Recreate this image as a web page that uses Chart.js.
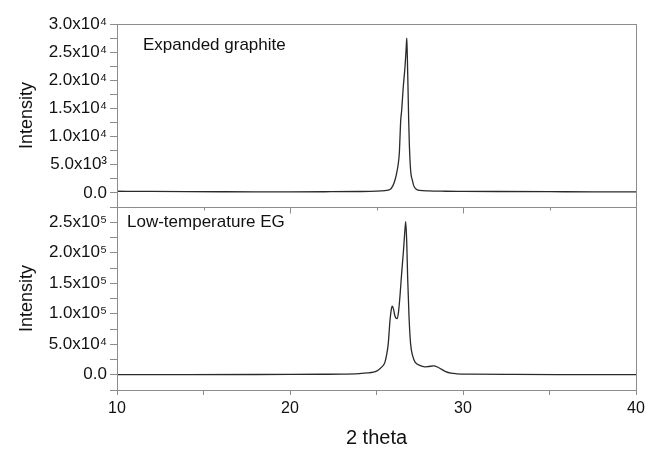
<!DOCTYPE html>
<html>
<head>
<meta charset="utf-8">
<script src="https://cdn.jsdelivr.net/npm/chart.js@4"></script>
<style>
  html, body { margin: 0; padding: 0; background: #fff; }
  #wrap { width: 657px; height: 450px; }
</style>
</head>
<body>
<div id="wrap"><canvas id="xrdChart"></canvas></div>
<script>
// expanded graphite (top panel)
const egTheta = [10, 12, 14, 16, 18, 20, 22, 24, 25, 25.5, 25.78, 25.95, 26.07, 26.15, 26.25, 26.32, 26.36, 26.4, 26.45, 26.55, 26.65, 26.72, 26.75, 26.78, 26.82, 26.86, 26.9, 26.95, 27.0, 27.07, 27.15, 27.3, 27.5, 28, 29, 30, 32, 35, 38, 40];
const egIntensity = [300, 260, 230, 210, 200, 200, 210, 250, 320, 420, 600, 1300, 2300, 3300, 5000, 7100, 10000, 12900, 14500, 18900, 22500, 26000, 27500, 24500, 18900, 12900, 8500, 5000, 3200, 2300, 1300, 650, 450, 350, 300, 280, 250, 220, 200, 200];

// low-temperature EG (bottom panel)
const lowTheta = [10, 14, 18, 20, 22, 23, 24, 24.5, 24.82, 25.0, 25.2, 25.35, 25.49, 25.6, 25.68, 25.78, 25.85, 25.91, 25.98, 26.05, 26.12, 26.2, 26.28, 26.36, 26.45, 26.55, 26.62, 26.69, 26.75, 26.8, 26.88, 26.97, 27.1, 27.23, 27.5, 27.8, 28.0, 28.3, 28.6, 29.0, 29.3, 29.64, 30.5, 33, 36, 40];
const lowIntensity = [300, 300, 400, 500, 800, 1100, 2000, 3000, 4300, 6000, 10000, 14000, 20700, 35000, 51000, 89000, 106000, 112400, 108000, 98000, 93000, 92100, 105000, 130000, 165000, 200000, 228000, 251000, 215000, 160000, 95000, 51000, 30000, 20700, 15300, 13000, 13500, 14500, 11500, 5000, 2500, 1600, 1000, 500, 300, 200];

const xTickLabels = [10, 20, 30, 40];
const panelNames = ["Expanded graphite", "Low-temperature EG"];

const supDigits = { "0": "\u2070", "1": "\u00b9", "2": "\u00b2", "3": "\u00b3", "4": "\u2074", "5": "\u2075", "6": "\u2076", "7": "\u2077", "8": "\u2078", "9": "\u2079" };

function sciLabel(v) {
    if (v < 0) return "";
    if (v === 0) return "0.0";
    const e = Math.floor(Math.log10(v) + 1e-9);
    const m = v / Math.pow(10, e);
    return m.toFixed(1) + "x10" + String(e).split("").map(d => supDigits[d]).join("");
}

const toPoints = (xs, ys) => xs.map((x, i) => ({ x: x, y: ys[i] }));

const FONT = "'Liberation Sans', Arial, sans-serif";
const AXIS_GREY = "#8c8c8c";

// box around each panel, inner ticks on the middle line, panel labels
const panelFrame = {
    id: "panelFrame",
    afterDraw(chart) {
        const ctx = chart.ctx;
        const area = chart.chartArea;
        const xs = chart.scales.x;
        ctx.save();
        ctx.strokeStyle = AXIS_GREY;
        ctx.lineWidth = 1;
        ["yTop", "yLow"].forEach(id => {
            const s = chart.scales[id];
            ctx.strokeRect(Math.round(area.left) + 0.5, Math.round(s.top) + 0.5,
                Math.round(area.right - area.left), Math.round(s.bottom - s.top));
        });
        const midY = Math.round(chart.scales.yTop.bottom) + 0.5;
        for (let v = 10; v <= 40; v += 5) {
            const px = Math.round(xs.getPixelForValue(v)) + 0.5;
            const len = v % 10 === 0 ? 6 : 3;
            ctx.beginPath();
            ctx.moveTo(px, midY);
            ctx.lineTo(px, midY + len);
            ctx.stroke();
        }
        ctx.fillStyle = "#111";
        ctx.font = "17px " + FONT;
        ctx.textBaseline = "middle";
        ctx.textAlign = "left";
        ctx.fillText(panelNames[0], area.left + 26, chart.scales.yTop.top + 21);
        ctx.fillText(panelNames[1], area.left + 10, chart.scales.yLow.top + 15);
        ctx.restore();
    }
};

function yAxis(min, max, step) {
    return {
        type: "linear",
        position: "left",
        stack: "panels",
        stackWeight: 1,
        min: min,
        max: max,
        border: { display: true, color: AXIS_GREY },
        grid: { drawOnChartArea: false, drawTicks: true, tickLength: 7, color: AXIS_GREY },
        ticks: {
            stepSize: step,
            autoSkip: false,
            padding: 3,
            color: "#111",
            font: { family: FONT, size: 17 },
            callback: v => (v % (2 * step) === 0 ? sciLabel(v) : "")
        },
        title: {
            display: true,
            text: "Intensity",
            color: "#111",
            font: { family: FONT, size: 18 },
            padding: { top: 16, bottom: 0 }
        },
        afterFit(scale) { scale.width = 117; }
    };
}

const config = {
    type: "line",
    data: {
        datasets: [
            {
                label: panelNames[1],
                data: toPoints(lowTheta, lowIntensity),
                yAxisID: "yLow",
                borderColor: "#2a2a2a",
                borderWidth: 1.3,
                pointRadius: 0,
                cubicInterpolationMode: "monotone",
                fill: false,
            },
            {
                label: panelNames[0],
                data: toPoints(egTheta, egIntensity),
                yAxisID: "yTop",
                borderColor: "#2a2a2a",
                borderWidth: 1.3,
                pointRadius: 0,
                cubicInterpolationMode: "monotone",
                fill: false,
            },
        ],
    },
    options: {
        animation: false,
        responsive: true,
        maintainAspectRatio: false,
        layout: { padding: { top: 24, right: 21, left: 0, bottom: 0 } },
        plugins: {
            legend: { display: false },
            title: { display: false },
            tooltip: { enabled: false },
        },
        scales: {
            x: {
                type: "linear",
                min: 10,
                max: 40,
                border: { display: true, color: AXIS_GREY },
                grid: { drawOnChartArea: false, drawTicks: true, tickLength: 5, color: AXIS_GREY },
                ticks: {
                    stepSize: 5,
                    autoSkip: false,
                    maxRotation: 0,
                    padding: 4,
                    color: "#111",
                    font: { family: FONT, size: 16 },
                    callback: v => (xTickLabels.includes(v) ? String(v) : "")
                },
                title: {
                    display: true,
                    text: "2 theta",
                    color: "#111",
                    font: { family: FONT, size: 20 },
                    padding: { top: 4, bottom: 0 }
                },
                afterFit(scale) { scale.height = 60; }
            },
            yLow: yAxis(-25000, 275000, 25000),
            yTop: yAxis(-2500, 30000, 2500),
        },
    },
    plugins: [panelFrame],
};

new Chart(document.getElementById("xrdChart"), config);
</script>
</body>
</html>
